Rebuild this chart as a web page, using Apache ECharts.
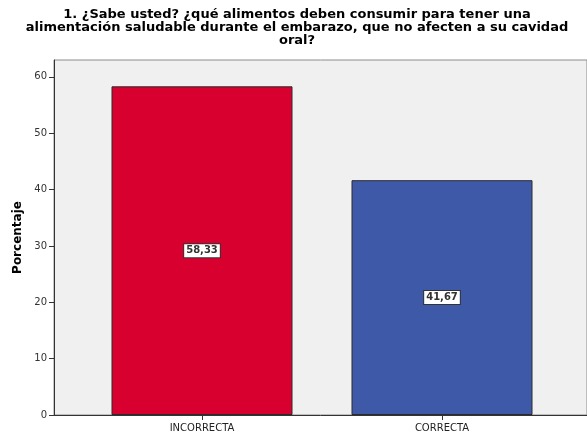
<!DOCTYPE html>
<html>
<head>
<meta charset="utf-8">
<script src="https://cdn.jsdelivr.net/npm/echarts@6/dist/echarts.min.js"></script>
<style>
  html, body { margin: 0; padding: 0; background: #ffffff; }
  #chart { width: 587px; height: 434px; }
</style>
</head>
<body>
<div id="chart"></div>
<script>
// Survey question 1: share of answers per category (percent)
const titleText = '1. ¿Sabe usted? ¿qué alimentos deben consumir para tener una\nalimentación saludable durante el embarazo, que no afecten a su cavidad\noral?';
const categories = ['INCORRECTA', 'CORRECTA'];
const percentages = [58.33, 41.67];
const barColors = ['#d7002f', '#3e59a8'];
const yAxisName = 'Porcentaje';
const yMin = 0;
const yMax = 63;
const yStep = 10;

const chart = echarts.init(document.getElementById('chart'), null, { renderer: 'canvas' });

const fontFamily = '"DejaVu Sans", "Liberation Sans", sans-serif';

const option = {
  animation: false,
  backgroundColor: '#ffffff',
  title: {
    text: titleText,
    left: 292,
    textAlign: 'center',
    top: 3,
    textStyle: {
      fontFamily: fontFamily,
      fontWeight: 'bold',
      fontSize: 13,
      lineHeight: 13,
      color: '#000000'
    }
  },
  grid: [
    {
      // frame with grey background
      left: 54, right: -3, top: 60, bottom: 19,
      show: true,
      backgroundColor: '#f0f0f0',
      borderColor: '#8c8c8c',
      borderWidth: 1
    },
    {
      // bars sit in a narrower band
      left: 82, right: 25, top: 60, bottom: 19
    }
  ],
  xAxis: [
    {
      gridIndex: 0,
      type: 'value',
      min: 0, max: 1,
      axisLine: { show: true, onZero: false, lineStyle: { color: '#333333', width: 1 } },
      axisTick: { show: false },
      axisLabel: { show: false },
      splitLine: { show: false }
    },
    {
      gridIndex: 1,
      type: 'category',
      data: categories,
      boundaryGap: true,
      axisLine: { show: false },
      axisTick: { show: true, alignWithLabel: true, length: 5, lineStyle: { color: '#333333' } },
      axisLabel: {
        margin: 8,
        fontFamily: fontFamily,
        fontSize: 10,
        color: '#222222'
      },
      splitLine: { show: false }
    }
  ],
  yAxis: [
    {
      gridIndex: 0,
      type: 'value',
      min: yMin, max: yMax, interval: yStep,
      name: yAxisName,
      nameLocation: 'middle',
      nameGap: 29,
      nameTextStyle: {
        fontFamily: fontFamily,
        fontWeight: 'bold',
        fontSize: 12,
        color: '#000000'
      },
      axisLine: { show: true, lineStyle: { color: '#333333', width: 1 } },
      axisTick: { show: true, length: 5, lineStyle: { color: '#333333' } },
      axisLabel: {
        margin: 7,
        fontFamily: fontFamily,
        fontSize: 10,
        color: '#333333',
        showMaxLabel: false
      },
      splitLine: { show: false }
    },
    {
      gridIndex: 1,
      type: 'value',
      min: yMin, max: yMax, interval: yStep,
      show: false
    }
  ],
  series: [
    {
      type: 'bar',
      xAxisIndex: 1,
      yAxisIndex: 1,
      barWidth: 181,
      data: percentages.map((v, i) => ({
        value: v,
        itemStyle: { color: barColors[i], borderColor: '#2b2b2b', borderWidth: 1 }
      })),
      label: {
        show: true,
        position: 'inside',
        formatter: p => p.value.toFixed(2).replace('.', ','),
        fontFamily: fontFamily,
        fontSize: 10,
        fontWeight: 'bold',
        color: '#333333',
        backgroundColor: '#ffffff',
        borderColor: '#333333',
        borderWidth: 1,
        padding: [2, 2, 1, 2]
      }
    }
  ]
};

chart.setOption(option);
</script>
</body>
</html>
